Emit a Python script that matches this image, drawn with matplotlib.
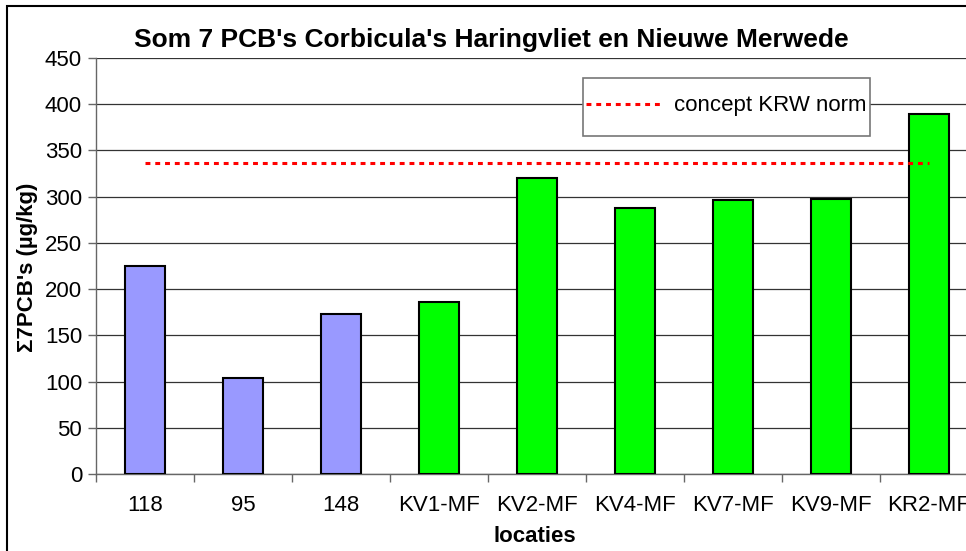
import matplotlib
matplotlib.use("Agg")
from matplotlib import pyplot as plt
from matplotlib.patches import Rectangle

# Data
locaties = ["118", "95", "148", "KV1-MF", "KV2-MF", "KV4-MF", "KV7-MF", "KV9-MF", "KR2-MF"]
som_pcb = [225, 104, 173, 186, 320, 288, 296, 298, 389]
bar_colors = ["#9999FF"] * 3 + ["#00FF00"] * 6
norm_value = 336

plt.rcParams["font.family"] = ["Liberation Sans", "DejaVu Sans"]

W, H = 966, 551
fig = plt.figure(figsize=(W / 100, H / 100), dpi=100)

# Axes position in pixels (right edge runs past the picture, as in the reference)
left, right, top, bottom = 96, 978, 58, 474
ax = fig.add_axes([left / W, 1 - bottom / H, (right - left) / W, (bottom - top) / H])

xs = list(range(len(locaties)))
ax.bar(xs, som_pcb, width=0.41, color=bar_colors, edgecolor="black", linewidth=1.5, zorder=3)

# Norm line from first to last category
ax.plot([xs[0], xs[-1]], [norm_value, norm_value], color="red", linewidth=2.2,
        dashes=[1.6, 1.6], label="concept KRW norm", zorder=4)

ax.set_xlim(-0.5, len(locaties) - 0.5)
ax.set_ylim(0, 450)
ax.set_yticks(range(0, 451, 50))
ax.yaxis.grid(True, color="#333333", linewidth=0.9, zorder=0)

ax.set_xticks(xs)
ax.set_xticklabels(locaties, fontsize=16)
ax.tick_params(axis="x", which="major", length=0, pad=15)
ax.set_xticks([x - 0.5 for x in xs] + [len(xs) - 0.5], minor=True)
ax.tick_params(axis="x", which="minor", length=6, width=1, color="#666666", direction="out")
ax.tick_params(axis="y", labelsize=16, length=6, width=1, color="#666666", pad=4)

for s in ["top", "right"]:
    ax.spines[s].set_visible(False)
for s in ["left", "bottom"]:
    ax.spines[s].set_color("#666666")
    ax.spines[s].set_linewidth(1)

# Legend without its own frame; the box is drawn separately to match the reference
leg = ax.legend(loc="center left", bbox_to_anchor=(586 / W, 1 - 106 / H),
                bbox_transform=fig.transFigure, fontsize=16, frameon=False,
                handlelength=3.5, handletextpad=0.45, borderpad=0, borderaxespad=0)
leg.set_zorder(6)
ax.add_patch(Rectangle((583 / W, 1 - 136 / H), (870 - 583) / W, (136 - 78) / H,
                       transform=fig.transFigure, facecolor="white", clip_on=False,
                       edgecolor="#777777", linewidth=1.2, zorder=5))

fig.text(491 / W, 1 - 40 / H, "Som 7 PCB's Corbicula's Haringvliet en Nieuwe Merwede",
         ha="center", va="center", fontsize=19, fontweight="bold")
fig.text(28 / W, 1 - 267 / H, "Σ7PCB's (µg/kg)", rotation=90, ha="center", va="center",
         fontsize=16, fontweight="bold")
fig.text(535 / W, 1 - 536 / H, "locaties", ha="center", va="center",
         fontsize=16, fontweight="bold")

# Chart-area border, running off the right and bottom of the picture
fig.patches.append(Rectangle((7 / W, -0.05), 1.1, 1 - 6 / H + 0.05, transform=fig.transFigure,
                             fill=False, edgecolor="black", linewidth=1.5))

fig.savefig("out.png", dpi=100)
